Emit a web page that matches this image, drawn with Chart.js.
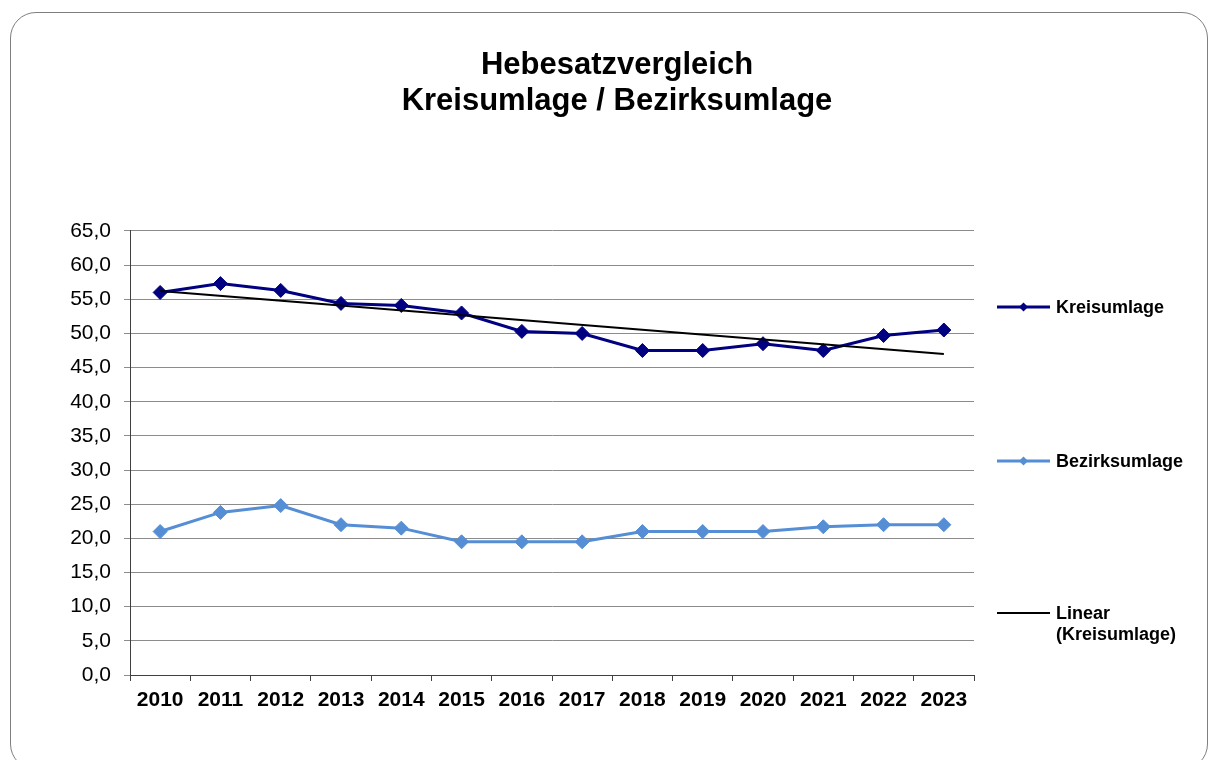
<!DOCTYPE html>
<html>
<head>
<meta charset="utf-8">
<script src="https://cdn.jsdelivr.net/npm/chart.js@4.4.0/dist/chart.umd.min.js"></script>
<style>
    html, body { margin: 0; padding: 0; background: #fff; overflow: hidden; }
    #frame { position: absolute; left: 10px; top: 12px; width: 1196px; height: 756px; border: 1px solid #7f7f7f; border-radius: 26px; }
    #wrap { position: absolute; left: 0; top: 0; width: 1208px; height: 760px; }
</style>
</head>
<body>
<div id="frame"></div>
<div id="wrap"><canvas id="chart"></canvas></div>
<script>
// data
const years = ['2010', '2011', '2012', '2013', '2014', '2015', '2016', '2017', '2018', '2019', '2020', '2021', '2022', '2023'];
const kreisumlage = [56.0, 57.3, 56.3, 54.4, 54.1, 53.0, 50.3, 50.0, 47.5, 47.5, 48.5, 47.5, 49.7, 50.5];
const bezirksumlage = [21.0, 23.8, 24.8, 22.0, 21.5, 19.5, 19.5, 19.5, 21.0, 21.0, 21.0, 21.7, 22.0, 22.0];
// trend line: only the two end points, as seen in the picture
const trendKreis = [56.2, null, null, null, null, null, null, null, null, null, null, null, null, 47.0];
const titleLines = ['Hebesatzvergleich', 'Kreisumlage / Bezirksumlage'];

const FONT = '"Liberation Sans", Arial, sans-serif';
const navy = '#000080';
const lightBlue = '#558ed5';

// legend drawn at the right side, like the office chart
const sideLegend = {
    id: 'sideLegend',
    afterDraw(chart) {
        let ctx = chart.ctx;
        let a = chart.chartArea;
        let x0 = a.right + 23, x1 = a.right + 76, tx = a.right + 82;
        let rows = [
            { text: ['Kreisumlage'], color: navy, y: 307, marker: true, lw: 3 },
            { text: ['Bezirksumlage'], color: lightBlue, y: 461, marker: true, lw: 3 },
            { text: ['Linear', '(Kreisumlage)'], color: '#000', y: 613, marker: false, lw: 2 }
        ];
        ctx.save();
        for (let r of rows) {
            ctx.strokeStyle = r.color;
            ctx.lineWidth = r.lw;
            ctx.beginPath();
            ctx.moveTo(x0, r.y);
            ctx.lineTo(x1, r.y);
            ctx.stroke();
            if (r.marker) {
                let m = (x0 + x1) / 2;
                ctx.fillStyle = r.color;
                ctx.beginPath();
                ctx.moveTo(m - 4.5, r.y);
                ctx.lineTo(m, r.y - 4.5);
                ctx.lineTo(m + 4.5, r.y);
                ctx.lineTo(m, r.y + 4.5);
                ctx.closePath();
                ctx.fill();
            }
            ctx.fillStyle = '#000';
            ctx.font = 'bold 18px ' + FONT;
            ctx.textBaseline = 'middle';
            ctx.textAlign = 'left';
            r.text.forEach((t, i) => ctx.fillText(t, tx, r.y + 1 + i * 21));
        }
        ctx.restore();
    }
};

const ctx = document.getElementById('chart');
const chart = new Chart(ctx, {
    type: 'line',
    data: {
        labels: years,
        datasets: [
            {
                label: 'Linear (Kreisumlage)',
                data: trendKreis,
                borderColor: '#000',
                borderWidth: 2,
                pointRadius: 0,
                spanGaps: true,
                order: 0
            },
            {
                label: 'Kreisumlage',
                data: kreisumlage,
                borderColor: navy,
                backgroundColor: navy,
                borderWidth: 3,
                pointStyle: 'rectRot',
                pointRadius: 7,
                pointBorderWidth: 1,
                order: 1
            },
            {
                label: 'Bezirksumlage',
                data: bezirksumlage,
                borderColor: lightBlue,
                backgroundColor: lightBlue,
                borderWidth: 3,
                pointStyle: 'rectRot',
                pointRadius: 7,
                pointBorderWidth: 1,
                order: 2
            }
        ]
    },
    options: {
        responsive: true,
        maintainAspectRatio: false,
        animation: false,
        layout: { padding: { left: 26, right: 0, top: 0, bottom: 0 } },
        scales: {
            x: {
                type: 'category',
                offset: true,
                grid: { offset: true, drawOnChartArea: false, drawTicks: true, tickLength: 6, color: '#404040' },
                border: { color: '#404040', width: 1 },
                ticks: { color: '#000', font: { family: FONT, size: 21, weight: 'bold' }, padding: 7, maxRotation: 0, autoSkip: false },
                afterFit: (s) => { s.height = 85; }
            },
            y: {
                min: 0,
                max: 65,
                ticks: {
                    stepSize: 5,
                    color: '#000',
                    padding: 13,
                    font: { family: FONT, size: 21 },
                    callback: (v) => v.toFixed(1).replace('.', ',')
                },
                grid: { color: '#8c8c8c', lineWidth: 1, tickLength: 6 },
                border: { color: '#404040', width: 1 },
                afterFit: (s) => { s.width = 104; }
            },
            legendSpace: {
                position: 'right',
                display: true,
                grid: { display: false },
                ticks: { display: false },
                border: { display: false },
                afterFit: (s) => { s.width = 234; }
            }
        },
        plugins: {
            legend: { display: false },
            tooltip: { enabled: false },
            title: {
                display: true,
                text: titleLines,
                color: '#000',
                font: { family: FONT, size: 31, weight: 'bold', lineHeight: 1.145 },
                padding: { top: 48, bottom: 112 }
            }
        }
    },
    plugins: [sideLegend]
});
</script>
</body>
</html>
